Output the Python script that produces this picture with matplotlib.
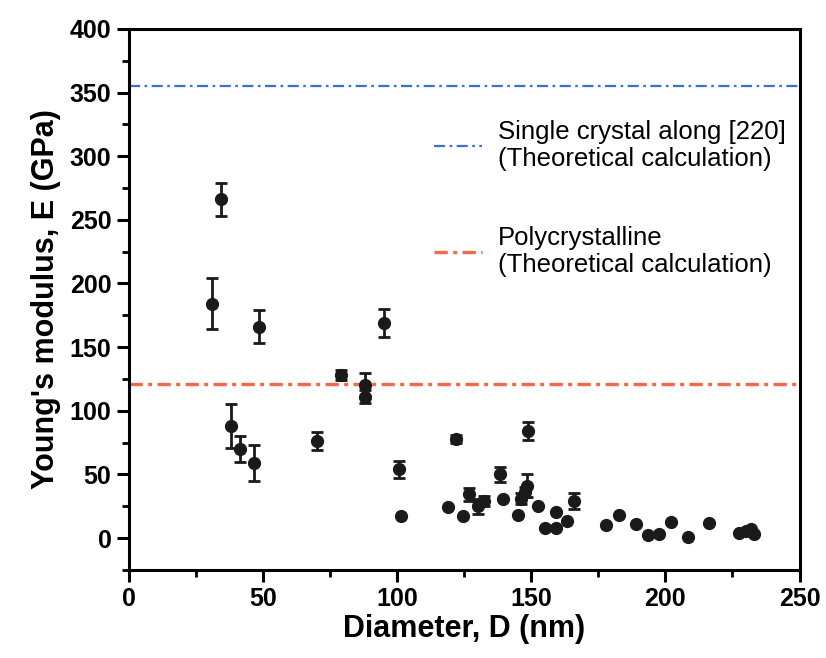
import numpy as np
import matplotlib.pyplot as plt
from matplotlib.lines import Line2D
from matplotlib.ticker import MultipleLocator

plt.rcParams['font.family'] = ['Liberation Sans', 'DejaVu Sans']

# measured nanowires: diameter (nm), modulus (GPa), error (GPa)
diameter = [31.0, 34.3, 38.2, 41.6, 46.6, 48.5, 70.3, 78.9, 88.0, 88.0,
            95.1, 100.6, 101.4, 119.1, 122.1, 124.5, 126.8, 130.2, 132.3, 138.3,
            139.3, 145.0, 146.3, 147.5, 148.4, 148.8, 152.5, 155.0, 159.3, 159.3,
            163.4, 165.8, 178.0, 182.6, 189.2, 193.6, 197.5, 202.2, 208.4, 216.2,
            227.6, 230.1, 232.0, 233.2]
modulus = [184, 266, 88, 70, 59, 166, 76, 128, 120, 111,
           169, 54, 17.5, 24.7, 78, 17.5, 34.4, 25, 29, 50,
           31, 17.7, 31, 36, 41, 84, 25, 7.5, 20.6, 7.5,
           13.7, 29, 10, 18, 11.3, 2.1, 3.4, 12.9, 1, 12.1,
           4.2, 5.5, 6.8, 3.4]
error = [20, 13, 17, 10, 14, 13, 7, 4, 10, 5,
         11, 6.5, 0, 0, 3, 0, 5, 6, 4, 6,
         0, 0, 4, 4, 9, 7, 0, 0, 0, 0,
         0, 6, 0, 0, 0, 0, 0, 0, 0, 0,
         0, 0, 0, 0]

single_crystal = 355
polycrystalline = 121

blue = '#3c6fd6'
red = '#f26a4a'
blue_ls = (0, (5, 2, 1.2, 2))
red_ls = (0, (4, 1.6, 1.2, 1.6))

fig = plt.figure(figsize=(8.26, 6.58), dpi=100)
ax = fig.add_axes([0.156, 0.134, 0.812, 0.822])

ax.axhline(single_crystal, color=blue, lw=1.6, ls=blue_ls)
ax.axhline(polycrystalline, color=red, lw=2.4, ls=red_ls)

ax.errorbar(diameter, modulus, yerr=error, fmt='o', color='#1a1a1a',
            ms=8.5, elinewidth=2, capsize=4.5, capthick=2, zorder=3)

ax.set_xlim(0, 250)
ax.set_ylim(-25, 400)
ax.xaxis.set_major_locator(MultipleLocator(50))
ax.xaxis.set_minor_locator(MultipleLocator(25))
ax.yaxis.set_minor_locator(MultipleLocator(25))
ax.set_yticks(range(0, 401, 50))

for s in ax.spines.values():
    s.set_linewidth(2.2)
ax.tick_params(which='major', direction='out', length=8.5, width=2.2,
               labelsize=18, pad=4)
ax.tick_params(which='minor', direction='out', length=5, width=2)
for lab in ax.get_xticklabels() + ax.get_yticklabels():
    lab.set_fontweight('bold')

ax.set_xlabel('Diameter, D (nm)', fontsize=22, fontweight='bold', labelpad=2)
ax.set_ylabel("Young's modulus, E (GPa)", fontsize=22, fontweight='bold', labelpad=6)

handles = [Line2D([], [], color=blue, lw=1.6, ls=blue_ls),
           Line2D([], [], color=red, lw=2.4, ls=red_ls)]
labels = ['Single crystal along [220]\n(Theoretical calculation)',
          'Polycrystalline\n(Theoretical calculation)']
leg = ax.legend(handles, labels, loc='upper left', bbox_to_anchor=(0.42, 0.875),
                frameon=False, fontsize=18.5, handlelength=1.9, handletextpad=0.6,
                labelspacing=2.15)
for t in leg.get_texts():
    t.set_linespacing(1.15)

fig.savefig('out.png', dpi=100)
